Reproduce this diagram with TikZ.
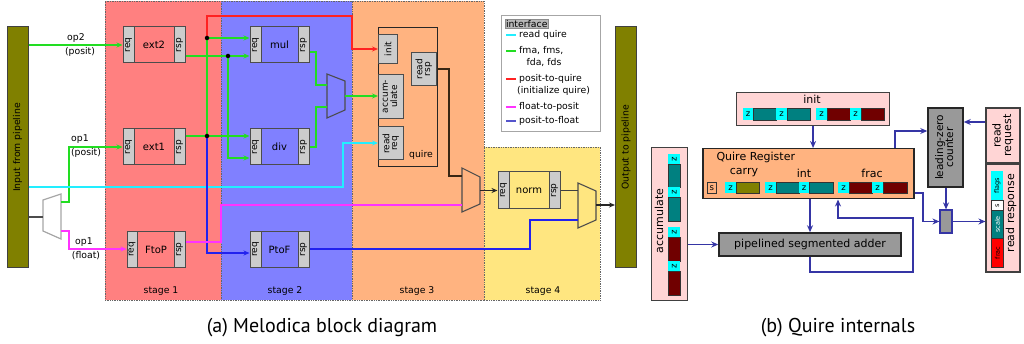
\documentclass[tikz,border=0pt]{standalone}
\usepackage{fontspec}
\setmainfont{DejaVu Sans}
\newfontfamily\capfont{PT Sans}
\usetikzlibrary{arrows.meta,calc}
\definecolor{stA}{HTML}{FF8080}
\definecolor{stB}{HTML}{8080FF}
\definecolor{stC}{HTML}{FFB380}
\definecolor{stD}{HTML}{FFE680}
\definecolor{olv}{HTML}{808000}
\definecolor{gryA}{HTML}{CCCCCC}
\definecolor{gryB}{HTML}{999999}
\definecolor{gcol}{HTML}{22DD22}
\definecolor{ccol}{HTML}{22EEFF}
\definecolor{rcol}{HTML}{FF2222}
\definecolor{mcol}{HTML}{FF33FF}
\definecolor{bcol}{HTML}{2222EE}
\definecolor{lbcol}{HTML}{5555CC}
\definecolor{pinkc}{HTML}{FFD5D5}
\definecolor{tealc}{HTML}{008080}
\definecolor{marc}{HTML}{700000}
\definecolor{zcy}{HTML}{00FFFF}
\definecolor{navy}{HTML}{3535A5}
\newcommand\rt[1]{\rotatebox{90}{\renewcommand\arraystretch{0.85}\begin{tabular}{@{}c@{}}#1\end{tabular}}}
\newcommand\zc[4]{\node[zcell,minimum width=#3pt,minimum height=#4pt,anchor=north west] at (#1,#2) {z};}
\newcommand\zcr[4]{\node[zcell,minimum width=#3pt,minimum height=#4pt,anchor=north west] at (#1,#2) {\rotatebox{90}{z}};}
\newcommand\fb[5]{\node[fcell,fill=#5,minimum width=#3pt,minimum height=#4pt,anchor=north west] at (#1,#2) {};}
\begin{document}
\begin{tikzpicture}[x=1pt,y=-1pt,font=\fontsize{9.3}{10}\selectfont,
  stagebox/.style={draw=black!60,densely dotted,line width=0.7pt,inner sep=0},
  bar/.style={draw=black!75,fill=olv,line width=1pt,minimum width=21pt,minimum height=241pt,inner sep=0},
  blk/.style={draw=black!70,line width=1pt,minimum height=36pt,inner sep=0,font=\fontsize{10}{10}\selectfont},
  side/.style={draw=black!70,fill=gryA,line width=1pt,minimum width=11pt,minimum height=36pt,inner sep=0,font=\fontsize{9}{9}\selectfont},
  qsub/.style={draw=black!70,fill=gryA,line width=1pt,inner sep=0,anchor=north west,font=\fontsize{9}{9}\selectfont},
  wire/.style={line width=1.2pt},
  arr/.style={-{Stealth[length=6pt,width=5pt]}},
  jdot/.style={circle,fill=black,inner sep=0,minimum size=4.5pt},
  muxs/.style={draw=black!70,line width=1.1pt},
  zcell/.style={fill=zcy,inner sep=0,font=\fontsize{8.5}{8}\selectfont},
  fcell/.style={draw=black!80,line width=0.9pt,inner sep=0},
  narr/.style={draw=navy,line width=1.3pt,-{Stealth[length=7pt,width=6pt]}},
  rbox/.style={draw=black!75,line width=1.1pt,inner sep=0},
  gbx/.style={draw=black!85,fill=gryB,line width=1.5pt,inner sep=0},
  lab/.style={font=\fontsize{11}{11}\selectfont}]
\useasboundingbox (0,0) rectangle (1024,344);

% ---------- stages
\node[stagebox,fill=stA,minimum width=116pt,minimum height=299pt] (s1) at (163,150.5) {};
\node[stagebox,fill=stB,minimum width=131pt,minimum height=299pt] (s2) at (286.5,150.5) {};
\node[stagebox,fill=stC,minimum width=132pt,minimum height=299pt] (s3) at (418,150.5) {};
\node[stagebox,fill=stD,minimum width=116pt,minimum height=153pt] (s4) at (542,223.5) {};
\node (l1) at (161,291) {stage 1};
\node (l2) at (285,291) {stage 2};
\node (l3) at (417,291) {stage 3};
\node (l4) at (543,291) {stage 4};

% ---------- bars
\node[bar] (inbar) at (17.5,147.5) {\rotatebox{90}{Input from pipeline}};
\node[bar] (outbar) at (626,147.5) {\rotatebox{90}{Output to pipeline}};

% ---------- blocks
\node[blk,fill=stA,minimum width=62pt] (ext2) at (154,45) {ext2};
\node[side,anchor=west] (ext2q) at (ext2.west) {\rotatebox{90}{req}};
\node[side,anchor=east] (ext2p) at (ext2.east) {\rotatebox{90}{rsp}};
\node[blk,fill=stA,minimum width=62pt] (ext1) at (154,147) {ext1};
\node[side,anchor=west] (ext1q) at (ext1.west) {\rotatebox{90}{req}};
\node[side,anchor=east] (ext1p) at (ext1.east) {\rotatebox{90}{rsp}};
\node[blk,fill=stA,minimum width=58pt] (ftop) at (156,249.5) {FtoP};
\node[side,anchor=west,minimum width=10pt] (ftopq) at (ftop.west) {\rotatebox{90}{req}};
\node[side,anchor=east] (ftopp) at (ftop.east) {\rotatebox{90}{rsp}};
\node[blk,fill=stB,minimum width=59pt] (mul) at (279.5,45) {mul};
\node[side,anchor=west] (mulq) at (mul.west) {\rotatebox{90}{req}};
\node[side,anchor=east] (mulp) at (mul.east) {\rotatebox{90}{rsp}};
\node[blk,fill=stB,minimum width=59pt] (div) at (279.5,147) {div};
\node[side,anchor=west] (divq) at (div.west) {\rotatebox{90}{req}};
\node[side,anchor=east] (divp) at (div.east) {\rotatebox{90}{rsp}};
\node[blk,fill=stB,minimum width=59pt] (ptof) at (279.5,249.5) {PtoF};
\node[side,anchor=west] (ptofq) at (ptof.west) {\rotatebox{90}{req}};
\node[side,anchor=east] (ptofp) at (ptof.east) {\rotatebox{90}{rsp}};
\node[blk,fill=stD,minimum width=62pt,minimum height=37pt] (norm) at (529,190.5) {norm};
\node[side,anchor=west,minimum height=37pt] (normq) at (norm.west) {\rotatebox{90}{req}};
\node[side,anchor=east,minimum height=37pt] (normp) at (norm.east) {\rotatebox{90}{rsp}};

% ---------- quire unit
\node[draw=black!85,line width=1.1pt,minimum width=59pt,minimum height=139pt,anchor=north west,inner sep=0] (quire) at (378,27) {};
\node (qlab) at (421,155) {quire};
\node[qsub,minimum width=19pt,minimum height=29pt] (init) at (378,34) {\rotatebox{90}{init}};
\node[qsub,minimum width=25pt,minimum height=33pt] (readrsp) at (411,52) {\rt{read\\rsp}};
\node[qsub,minimum width=25pt,minimum height=44pt] (accum) at (378,74) {\rt{accum-\\ulate}};
\node[qsub,minimum width=25pt,minimum height=33pt] (readreq) at (378,126.5) {\rt{read\\req}};

% ---------- muxes
\draw[draw=gray!70,fill=white,line width=1.2pt] (43,200) -- (61,194) -- (61,239) -- (43,231) -- cycle;
\coordinate (m0in) at (43,217);
\coordinate (m0a) at (61,202);
\coordinate (m0b) at (61,231);
\draw[muxs,fill=stB] (327,74) -- (345,81) -- (345,110) -- (327,118) -- cycle;
\coordinate (m2a) at (327,85);
\coordinate (m2b) at (327,107);
\coordinate (m2o) at (345,96);
\draw[muxs,fill=stC] (462,168) -- (480,177) -- (480,204) -- (462,212) -- cycle;
\coordinate (m3a) at (462,176);
\coordinate (m3b) at (462,205);
\coordinate (m3o) at (480,190.5);
\draw[muxs,fill=stD] (578,183) -- (596,191) -- (596,220) -- (578,228) -- cycle;
\coordinate (m4a) at (578,190.5);
\coordinate (m4b) at (578,220);
\coordinate (m4o) at (596,205);

% ---------- wires stage part
\draw[wire,black!70] (inbar.east |- m0in) -- (m0in);
\draw[wire,gcol,arr] (inbar.east |- ext2q.west) -- (ext2q.west);
\node (op2) at (76,38) {op2};
\node (op2b) at (80,52) {(posit)};
\draw[wire,gcol,arr] (m0a) -| (69,147) -- (ext1q.west |- 0,147);
\node (op1) at (80,139) {op1};
\node (op1b) at (86,153) {(posit)};
\draw[wire,mcol,arr] (m0b) -| (69,249) -- (ftopq.west |- 0,249);
\node (op1f) at (84,242) {op1};
\node (op1fb) at (86,256) {(float)};
\draw[wire,ccol,arr] (inbar.east |- 0,187) -| (343,143) -- (readreq.west |- 0,143);

\draw[wire,bcol,arr] (207,136) |- (ptofq.west |- 0,253);
\draw[wire,rcol,arr] (207,38) |- (352,16) |- (init.west);
\draw[wire,gcol,arr] (ext2p.east |- 0,56) -- (mulq.west |- 0,56);
\draw[wire,gcol,arr] (228,56) |- (divq.west |- 0,158);
\draw[wire,gcol,arr] (ext1p.east |- 0,136) -- (divq.west |- 0,136);
\draw[wire,gcol,arr] (207,136) |- (mulq.west |- 0,38);
\node[jdot] (d1) at (228,56) {};
\node[jdot] (d2) at (207,136) {};
\node[jdot] (d3) at (207,38) {};
\draw[wire,gcol] (mulp.east |- 0,52) -| (316,85) -- (m2a);
\draw[wire,gcol] (divp.east |- 0,147) -| (316,107) -- (m2b);
\draw[wire,gcol,arr] (m2o) -- (accum.west |- m2o);
\draw[wire,mcol] (ftopp.east |- 0,242) -| (221,205) -- (m3b);
\draw[wire,bcol] (ptofp.east |- 0,249) -| (530,220) -- (m4b);
\draw[wire,black!70!brown] (readrsp.east) -| (449,176) -- (m3a);
\draw[wire,black!85,arr] (m3o) -- (normq.west);
\draw[wire,black!75] (normp.east) -- (m4a);
\draw[wire,black!85,arr] (m4o) -- (outbar.west |- m4o);

% ---------- legend
\node[draw=gray!70,fill=white,line width=1pt,minimum width=99pt,minimum height=116pt,anchor=north west,inner sep=0] (leg) at (501,15) {};
\begin{scope}[font=\fontsize{9.3}{9}\selectfont]
\node[fill=gray!55,draw=gray!90,inner sep=0.8pt,anchor=west] (lh) at (505,24) {interface};
\draw[wire,ccol] (506,35) -- (516,35); \node[anchor=west,inner sep=1pt] (li1) at (518,35) {read quire};
\draw[wire,gcol] (506,51) -- (516,51); \node[anchor=west,inner sep=1pt] (li2) at (518,51) {fma, fms,};
\node[inner sep=1pt] (li2b) at (544,63) {fda, fds};
\draw[wire,rcol] (506,79) -- (516,79); \node[anchor=west,inner sep=1pt] (li3) at (518,79) {posit-to-quire};
\node[anchor=west,inner sep=1pt] (li3b) at (516,91) {(initialize quire)};
\draw[wire,mcol] (506,107) -- (516,107); \node[anchor=west,inner sep=1pt] (li4) at (518,107) {float-to-posit};
\draw[wire,lbcol] (506,121) -- (516,121); \node[anchor=west,inner sep=1pt] (li5) at (518,121) {posit-to-float};
\end{scope}

% ---------- quire internals
\node[rbox,fill=pinkc,minimum width=153pt,minimum height=33pt,anchor=north west] (initb) at (736,92) {};
\node[lab] (initl) at (812,99) {init};
\zc{743}{108}{10}{12} \fb{753}{108}{23}{12}{tealc}
\zc{776}{108}{11}{12} \fb{787}{108}{23}{12}{tealc}
\zc{816}{108}{11}{12} \fb{827}{108}{23}{12}{marc}
\zc{850}{108}{11}{12} \fb{861}{108}{23}{12}{marc}

\node[draw=black!85,fill=stC,line width=1.5pt,anchor=north west,minimum width=211pt,minimum height=50pt,inner sep=0] (qreg) at (702,148) {};
\node[lab,anchor=west] (qregl) at (713,157) {Quire Register};
\node[lab] (carry) at (744,173) {carry};
\node[lab] (intl) at (804,173) {int};
\node[lab] (fracl) at (872,173) {frac};
\node[draw=black!80,line width=0.8pt,fill=stC,minimum width=9pt,minimum height=11pt,inner sep=0,anchor=north west,font=\fontsize{8.5}{8}\selectfont] (sbit) at (707,182) {s};
\zc{725}{182}{11}{11} \fb{736}{182}{23}{11}{olv}
\zc{765}{182}{11}{11} \fb{776}{182}{23}{11}{tealc}
\zc{799}{182}{10}{11} \fb{809}{182}{24}{11}{tealc}
\zc{838}{182}{11}{11} \fb{849}{182}{23}{11}{marc}
\zc{872}{182}{11}{11} \fb{883}{182}{24}{11}{marc}

\node[gbx,minimum width=182pt,minimum height=23pt,font=\fontsize{11}{11}\selectfont] (adder) at (810,244.5) {pipelined segmented adder};

\node[rbox,fill=pinkc,minimum width=36pt,minimum height=153pt,anchor=north west] (acc) at (651,147) {};
\node[lab] (accl) at (659,221) {\rotatebox{90}{accumulate}};
\zcr{668}{154}{12}{10} \fb{668}{164}{12}{23}{tealc}
\zcr{668}{187}{12}{10} \fb{668}{197}{12}{24}{tealc}
\zcr{668}{227}{12}{10} \fb{668}{237}{12}{24}{marc}
\zcr{668}{261}{12}{10} \fb{668}{271}{12}{24}{marc}

\node[gbx,minimum width=35pt,minimum height=79pt,font=\fontsize{10.5}{11}\selectfont] (lzc) at (945.5,147.5) {\rt{leading-zero\\counter}};
\node[rbox,fill=pinkc,minimum width=34pt,minimum height=55pt,font=\fontsize{11}{11}\selectfont] (rreq) at (1003,135.5) {\rt{read\\request}};
\node[rbox,fill=pinkc,minimum width=34pt,minimum height=108pt] (rresp) at (1003,218) {};
\node[lab] (rrespl) at (1011,213) {\rotatebox{90}{read response}};
\begin{scope}[font=\fontsize{6.5}{7}\selectfont]
\node[fill=zcy,inner sep=0,minimum width=12pt,minimum height=29pt,anchor=north west] (flg) at (991,171) {\rotatebox{90}{flags}};
\node[fcell,fill=white,minimum width=12pt,minimum height=10pt,anchor=north west] (sfl) at (991,200) {\rotatebox{90}{s}};
\node[fcell,fill=tealc,text=white,minimum width=12pt,minimum height=28pt,anchor=north west] (scl) at (991,210) {\rotatebox{90}{scale}};
\node[fcell,fill=red,minimum width=12pt,minimum height=29pt,anchor=north west] (frc) at (991,238) {\rotatebox{90}{frac}};
\end{scope}
\node[draw=navy,fill=gryB,line width=1.2pt,minimum width=12pt,minimum height=23pt,inner sep=0] (sbox) at (946,221.5) {};

\draw[narr] (initb.south) -- (initb.south |- qreg.north);
\draw[narr] (qreg.south -| 810,0) -- (adder.north -| 810,0);
\draw[narr] (acc.east |- adder.west) -- (adder.west);
\draw[narr] (adder.south -| 810,0) |- (913,272) |- (838,218) -- (qreg.south -| 838,0);
\draw[narr] (qreg.north -| 895,0) |- (lzc.west |- 0,131);
\draw[narr] (rreq.west |- 0,122) -- (lzc.east |- 0,122);
\draw[narr] (lzc.south -| sbox.north) -- (sbox.north);
\draw[narr] (qreg.east |- 0,193) -| (923,221.5) -- (sbox.west);
\draw[narr] (sbox.east) -- (rresp.west |- sbox.east);

% ---------- captions
\node[font=\capfont\fontsize{20}{22}\selectfont] (capa) at (322,328) {(a) Melodica block diagram};
\node[font=\capfont\fontsize{20}{22}\selectfont] (capb) at (838,328) {(b) Quire internals};
\end{tikzpicture}
\end{document}
